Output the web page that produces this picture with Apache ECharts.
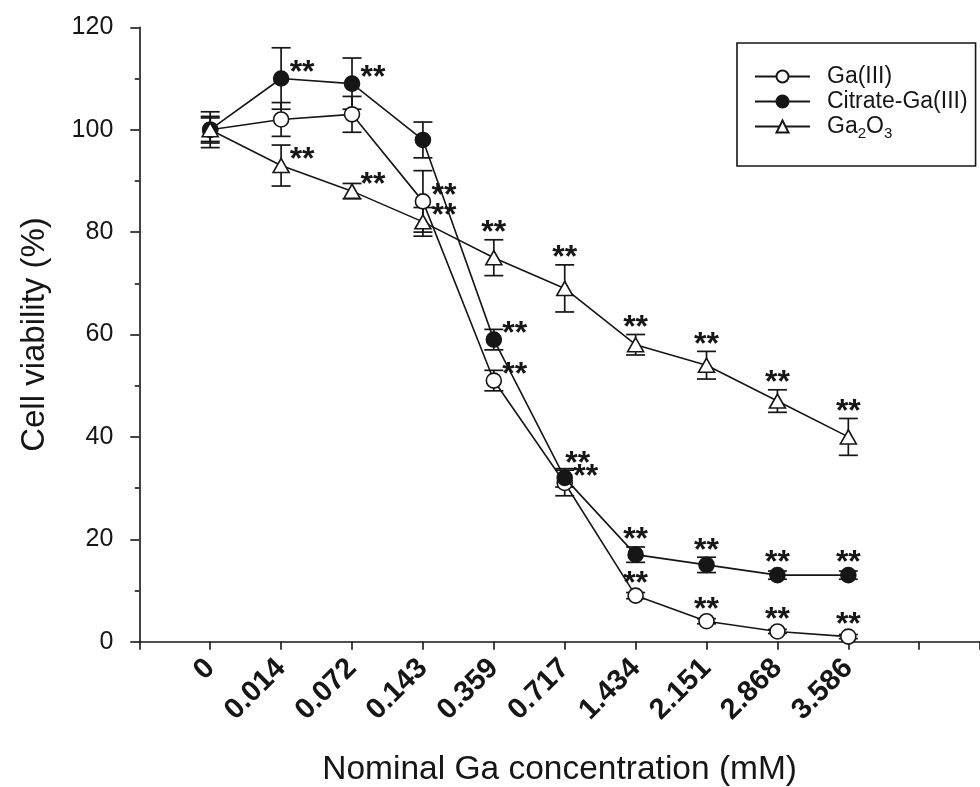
<!DOCTYPE html>
<html>
<head>
<meta charset="utf-8">
<script src="https://cdn.jsdelivr.net/npm/echarts@6/dist/echarts.min.js"></script>
<style>
  html, body { margin: 0; padding: 0; background: #fff; }
  #chart { width: 980px; height: 787px; }
</style>
</head>
<body>
<div id="chart"></div>
<script>
// Nominal Ga concentrations (mM) used as x categories
const concentrations = ['0', '0.014', '0.072', '0.143', '0.359', '0.717', '1.434', '2.151', '2.868', '3.586'];

// Cell viability (%) means and standard deviations
const gaIII = [100, 102, 103, 86, 51, 31, 9, 4, 2, 1];
const gaIIISd = [2.3, 3.3, 3.5, 6, 2, 2.5, 0.6, 0.5, 0.4, 0.4];

const citrateGa = [100, 110, 109, 98, 59, 32, 17, 15, 13, 13];
const citrateGaSd = [2.6, 6, 5, 3.5, 2, 1.8, 1.5, 1.5, 0.8, 0.8];

const ga2o3 = [100, 93, 88, 82, 75, 69, 58, 54, 47, 40];
const ga2o3Sd = [3.5, 4, 1.5, 2.8, 3.5, 4.6, 2, 2.7, 2.2, 3.6];

// Significance versus control (1 = p < 0.01, shown as **)
const gaIIISig = [0, 0, 0, 1, 1, 1, 1, 1, 1, 1];
const citrateGaSig = [0, 1, 1, 0, 1, 1, 1, 1, 1, 1];
const ga2o3Sig = [0, 1, 1, 1, 1, 1, 1, 1, 1, 1];

const yTicks = [0, 20, 40, 60, 80, 100, 120];

// Where each ** sits: 'r' = beside the marker, 't' = above the error bar, 'q' = above and right
const starSide = {
  gaIII:     ['t', 't', 't', 'r', 'r', 'r', 't', 't', 't', 't'],
  citrateGa: ['t', 'r', 'r', 't', 'r', 'q', 't', 't', 't', 't'],
  ga2o3:     ['t', 'r', 'r', 'r', 't', 't', 't', 't', 't', 't']
};

const INK = '#161616';
const FONT = '"Liberation Sans", Arial, sans-serif';

const groups = [
  { name: 'Ga(III)', mean: gaIII, sd: gaIIISd, sig: gaIIISig, side: starSide.gaIII },
  { name: 'Citrate-Ga(III)', mean: citrateGa, sd: citrateGaSd, sig: citrateGaSig, side: starSide.citrateGa },
  { name: 'Ga2O3', mean: ga2o3, sd: ga2o3Sd, sig: ga2o3Sig, side: starSide.ga2o3 }
];

const symbolStyles = [
  { symbol: 'circle', symbolSize: 15, itemStyle: { color: '#fff', borderColor: INK, borderWidth: 1.6 } },
  { symbol: 'circle', symbolSize: 15, itemStyle: { color: INK, borderColor: INK, borderWidth: 1.6 } },
  { symbol: 'triangle', symbolSize: [16, 14], itemStyle: { color: '#fff', borderColor: INK, borderWidth: 1.6 } }
];

// Error bars: vertical whisker plus caps
function renderErrorBar(params, api) {
  const x = api.value(0), y = api.value(1), sd = api.value(2);
  const hi = api.coord([x, y + sd]);
  const lo = api.coord([x, y - sd]);
  const hw = 9.5;
  const st = { stroke: INK, lineWidth: 1.7 };
  return {
    type: 'group',
    children: [
      { type: 'line', shape: { x1: hi[0], y1: hi[1], x2: lo[0], y2: lo[1] }, style: st },
      { type: 'line', shape: { x1: hi[0] - hw, y1: hi[1], x2: hi[0] + hw, y2: hi[1] }, style: st },
      { type: 'line', shape: { x1: lo[0] - hw, y1: lo[1], x2: lo[0] + hw, y2: lo[1] }, style: st }
    ]
  };
}

// Significance asterisks
function renderStars(params, api) {
  const x = api.value(0), y = api.value(1), sd = api.value(2), side = api.value(3);
  const c = api.coord([x, y]);
  const hi = api.coord([x, y + sd]);
  const lift = 7.5; // asterisk ink sits above the text middle
  let px, py;
  if (side === 0) {            // beside the marker
    px = c[0] + 21; py = c[1] - 13;
  } else if (side === 2) {     // above and slightly right
    px = c[0] + 13; py = hi[1] - 12;
  } else {                     // above the error bar
    px = c[0]; py = Math.min(hi[1], c[1] - 5) - 14;
  }
  return {
    type: 'text',
    x: px, y: py + lift,
    style: { text: '**', font: 'bold 32px ' + FONT, fill: INK, align: 'center', verticalAlign: 'middle' }
  };
}

const sideCode = { r: 0, t: 1, q: 2 };

const series = [];
groups.forEach((g) => {
  series.push({
    type: 'custom',
    name: g.name + ' SD',
    renderItem: renderErrorBar,
    data: g.mean.map((v, i) => [i, v, g.sd[i]]),
    z: 1,
    silent: true
  });
});
groups.forEach((g, gi) => {
  series.push(Object.assign({
    type: 'line',
    name: g.name,
    data: g.mean.map((v, i) => [i, v]),
    lineStyle: { color: INK, width: 1.6 },
    z: 3 + gi,
    animation: false
  }, symbolStyles[gi]));
});
groups.forEach((g) => {
  series.push({
    type: 'custom',
    name: g.name + ' sig',
    renderItem: renderStars,
    data: g.mean.map((v, i) => [i, v, g.sd[i], sideCode[g.side[i]]]).filter((d, i) => g.sig[i]),
    z: 10,
    silent: true
  });
});

const chart = echarts.init(document.getElementById('chart'), null, { renderer: 'canvas' });
chart.setOption({
  animation: false,
  backgroundColor: '#fff',
  textStyle: { fontFamily: FONT, color: INK },
  grid: { left: 139.3, right: 0, top: 27.3, bottom: 145.3, containLabel: false, outerBoundsMode: 'none' },
  xAxis: {
    type: 'value',
    min: -1,
    max: 10.857,
    interval: 1,
    name: 'Nominal Ga concentration (mM)',
    nameLocation: 'middle',
    nameGap: 111,
    nameTextStyle: { fontSize: 33.5, color: INK, fontFamily: FONT },
    axisLine: { onZero: false, lineStyle: { color: INK, width: 1.6 } },
    axisTick: { length: 8, lineStyle: { color: INK, width: 1.6 } },
    splitLine: { show: false },
    axisLabel: {
      rotate: 45,
      margin: 22,
      fontSize: 29,
      fontWeight: 'bold',
      color: INK,
      fontFamily: FONT,
      padding: [0, 0, 6, 0],
      formatter: v => (v >= 0 && v < concentrations.length && Number.isInteger(v)) ? concentrations[v] : ''
    }
  },
  yAxis: {
    type: 'value',
    min: yTicks[0],
    max: yTicks[yTicks.length - 1],
    interval: 20,
    name: 'Cell viability (%)',
    nameLocation: 'middle',
    nameGap: 88,
    nameTextStyle: { fontSize: 33, color: INK, fontFamily: FONT },
    axisLine: { show: true, onZero: false, lineStyle: { color: INK, width: 1.6 } },
    axisTick: { show: true, length: 9, lineStyle: { color: INK, width: 1.6 } },
    minorTick: { show: true, splitNumber: 2, length: 4.5, lineStyle: { color: INK, width: 1.6 } },
    splitLine: { show: false },
    axisLabel: { fontSize: 25, margin: 26, color: INK, fontFamily: FONT }
  },
  legend: {
    orient: 'vertical',
    left: 737,
    top: 43,
    data: groups.map(g => g.name),
    itemWidth: 55,
    itemHeight: 15,
    itemGap: 2,
    padding: [22, 8, 25, 17],
    borderColor: INK,
    borderWidth: 1.6,
    borderRadius: 0,
    textStyle: {
      fontSize: 23,
      color: INK,
      fontFamily: FONT,
      padding: [0, 0, 0, 12],
      rich: {
        n: { fontSize: 23, fontFamily: FONT, color: INK },
        s: { fontSize: 15, fontFamily: FONT, color: INK, padding: [14, 0, 0, 0] }
      }
    },
    formatter: name => name === 'Ga2O3' ? '{n|Ga}{s|2}{n|O}{s|3}' : name
  },
  series: series
});
</script>
</body>
</html>
